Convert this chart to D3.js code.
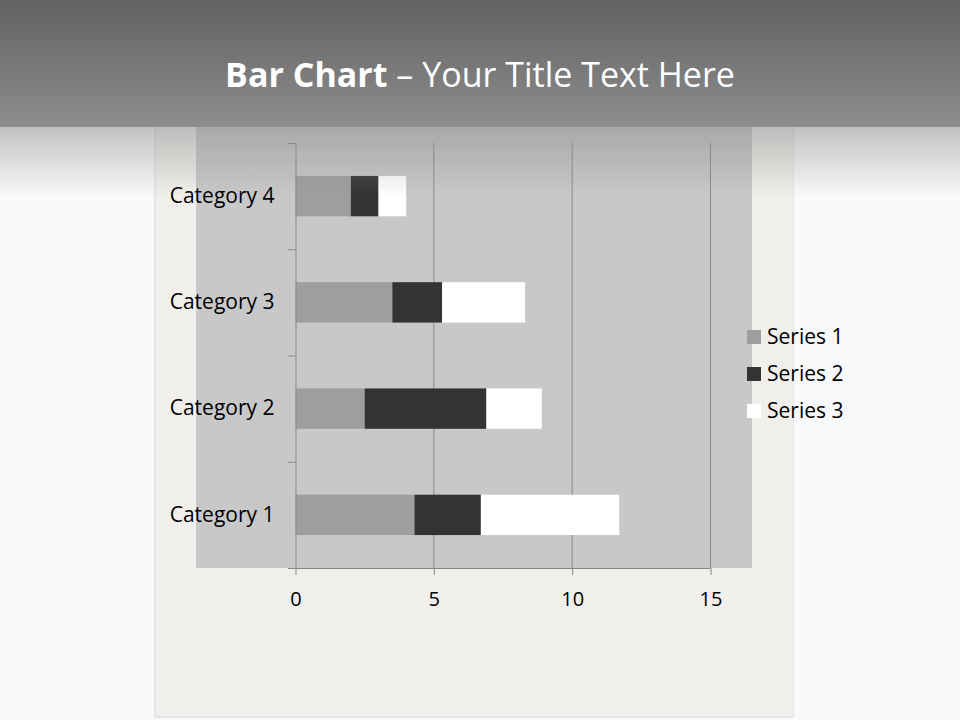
<!DOCTYPE html>
<html>
<head>
<meta charset="utf-8">
<script src="https://cdn.jsdelivr.net/npm/d3@7"></script>
<style>
  body { margin: 0; background: #f8f9fb; }
  svg { display: block; font-family: "Open Sans", Lato, sans-serif; }
</style>
</head>
<body>
<div id="chart"></div>
<script>
// chart data
var categories = ["Category 1", "Category 2", "Category 3", "Category 4"];
var seriesNames = ["Series 1", "Series 2", "Series 3"];
var series1 = [4.3, 2.5, 3.5, 2];
var series2 = [2.4, 4.4, 1.8, 1];
var series3 = [5, 2, 3, 1];
var xTicks = [0, 5, 10, 15];

var colors = ["#9e9e9e", "#333333", "#ffffff"];
var fontFam = "'Open Sans', Lato, sans-serif";

var svgWidth = 960, svgHeight = 720;

var svg = d3.select("#chart").append("svg")
  .attr("width", svgWidth)
  .attr("height", svgHeight);

var defs = svg.append("defs");

var headGrad = defs.append("linearGradient")
  .attr("id", "headGrad").attr("x1", 0).attr("y1", 0).attr("x2", 0).attr("y2", 1);
headGrad.append("stop").attr("offset", "0%").attr("stop-color", "#626262");
headGrad.append("stop").attr("offset", "100%").attr("stop-color", "#8d8d8d");

var shadeGrad = defs.append("linearGradient")
  .attr("id", "shadeGrad").attr("x1", 0).attr("y1", 0).attr("x2", 0).attr("y2", 1);
shadeGrad.append("stop").attr("offset", "0%").attr("stop-color", "#8a8a8a").attr("stop-opacity", 0.5);
shadeGrad.append("stop").attr("offset", "100%").attr("stop-color", "#8a8a8a").attr("stop-opacity", 0);

// background + paper panel
svg.append("rect")
  .attr("width", svgWidth).attr("height", svgHeight)
  .attr("fill", "#f8f9fb");

svg.append("rect")
  .attr("x", 154).attr("y", 100).attr("width", 640).attr("height", 618)
  .attr("fill", "#e6e6e6");

svg.append("rect")
  .attr("x", 156).attr("y", 100).attr("width", 637).attr("height", 616)
  .attr("fill", "#f0efeb");

// plot area
svg.append("rect")
  .attr("x", 196).attr("y", 120).attr("width", 556).attr("height", 448)
  .attr("fill", "#c8c8c8");

var x = d3.scaleLinear()
  .domain([0, 15])
  .range([295.5, 710.5]);

var y = d3.scaleBand()
  .domain(categories.slice().reverse())
  .range([143, 568])
  .paddingInner(0.62)
  .paddingOuter(0.31);

// gridlines
svg.append("g")
  .selectAll("line")
  .data(xTicks.slice(1))
  .enter()
  .append("line")
  .attr("x1", d => x(d)).attr("x2", d => x(d))
  .attr("y1", 143).attr("y2", 568)
  .attr("stroke", "#8a8a8a")
  .attr("stroke-width", 1);

// stacked bars
var rows = categories.map(function(c, i) {
  return { category: c, "Series 1": series1[i], "Series 2": series2[i], "Series 3": series3[i] };
});
var stacked = d3.stack().keys(seriesNames)(rows);

svg.append("g")
  .selectAll("g")
  .data(stacked)
  .enter()
  .append("g")
  .attr("fill", (d, i) => colors[i])
  .selectAll("rect")
  .data(d => d)
  .enter()
  .append("rect")
  .attr("x", d => x(d[0]))
  .attr("width", d => x(d[1]) - x(d[0]))
  .attr("y", d => y(d.data.category))
  .attr("height", y.bandwidth());

// value axis
var xAxis = svg.append("g")
  .attr("transform", "translate(0,568)")
  .call(d3.axisBottom(x).tickValues(xTicks).tickSize(7).tickPadding(17));
xAxis.select(".domain").attr("stroke", "#888888").attr("d", "M295.5,0.5H710.5");
xAxis.selectAll(".tick line").attr("stroke", "#888888");
xAxis.selectAll("text")
  .attr("fill", "#000")
  .style("font-size", "20px")
  .style("font-family", fontFam);

// category axis
var yAxis = svg.append("g")
  .attr("transform", "translate(295.5,0)")
  .call(d3.axisLeft(y).tickSize(0).tickPadding(21));
yAxis.select(".domain").attr("stroke", "#888888");
yAxis.selectAll("text")
  .attr("fill", "#000")
  .style("font-size", "21px")
  .style("font-family", fontFam);

var step = y.step();
svg.append("g")
  .selectAll("line")
  .data(d3.range(categories.length + 1))
  .enter()
  .append("line")
  .attr("x1", 288).attr("x2", 295.5)
  .attr("y1", d => 143 + d * step + 0.5)
  .attr("y2", d => 143 + d * step + 0.5)
  .attr("stroke", "#888888");

// legend
var legend = svg.append("g")
  .selectAll("g")
  .data(seriesNames)
  .enter()
  .append("g")
  .attr("transform", (d, i) => `translate(747, ${330 + i * 37})`);

legend.append("rect")
  .attr("width", 14).attr("height", 14)
  .attr("fill", (d, i) => colors[i]);

legend.append("text")
  .attr("x", 20).attr("y", 7)
  .attr("dy", "0.35em")
  .style("font-size", "21px")
  .text(d => d);

// header band + shadow
svg.append("rect")
  .attr("width", svgWidth).attr("height", 127)
  .attr("fill", "url(#headGrad)");

svg.append("rect")
  .attr("y", 127).attr("width", svgWidth).attr("height", 70)
  .attr("fill", "url(#shadeGrad)");

var title = svg.append("text")
  .attr("x", 480).attr("y", 87)
  .attr("text-anchor", "middle")
  .attr("fill", "#ffffff")
  .style("font-size", "34px");
title.append("tspan").attr("font-weight", "bold").text("Bar Chart");
title.append("tspan").text(" \u2013 Your Title Text Here");
</script>
</body>
</html>
